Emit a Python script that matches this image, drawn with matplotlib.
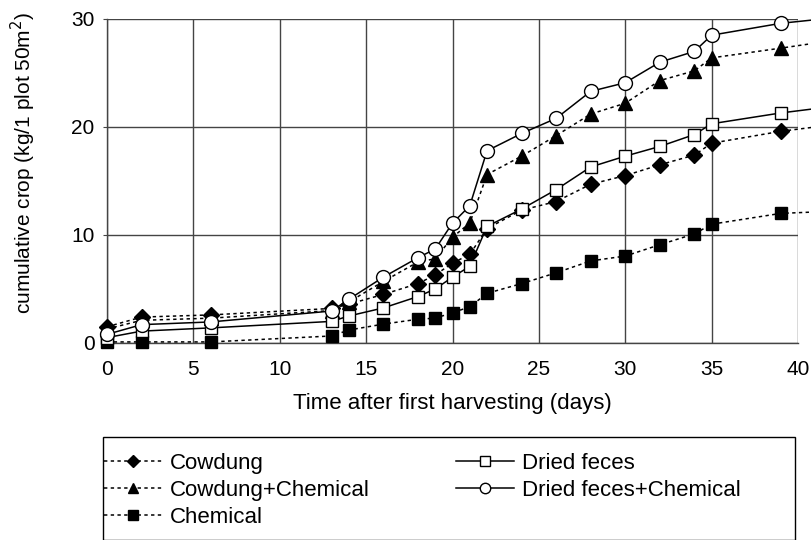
import matplotlib
matplotlib.use("Agg")
import matplotlib.pyplot as plt
from matplotlib.patches import Rectangle

plt.rcParams['font.family'] = ['Liberation Sans', 'DejaVu Sans']

days = [0, 2, 6, 13, 14, 16, 18, 19, 20, 21, 22, 24, 26, 28, 30, 32, 34, 35, 39, 42]

cowdung = [1.5, 2.4, 2.6, 3.2, 3.6, 4.5, 5.5, 6.3, 7.4, 8.2, 10.6, 12.3, 13.1, 14.7, 15.5, 16.5, 17.4, 18.5, 19.6, 20.2]
cowdung_chem = [1.3, 2.1, 2.3, 3.0, 3.8, 5.7, 7.5, 7.8, 9.8, 11.1, 15.6, 17.3, 19.2, 21.2, 22.2, 24.3, 25.2, 26.4, 27.3, 28.0]
chemical = [0.1, 0.1, 0.1, 0.65, 1.2, 1.75, 2.2, 2.3, 2.8, 3.35, 4.6, 5.5, 6.5, 7.6, 8.05, 9.1, 10.1, 11.0, 12.0, 12.2]
dried = [0.5, 1.1, 1.4, 2.0, 2.5, 3.25, 4.3, 5.0, 6.1, 7.1, 10.8, 12.4, 14.2, 16.3, 17.3, 18.2, 19.3, 20.3, 21.3, 21.9]
dried_chem = [0.8, 1.7, 1.95, 2.96, 4.05, 6.1, 7.9, 8.7, 11.1, 12.7, 17.8, 19.4, 20.8, 23.3, 24.1, 26.0, 27.0, 28.5, 29.6, 30.1]

labels = ["Cowdung", "Cowdung+Chemical", "Chemical", "Dried feces", "Dried feces+Chemical"]
xticks = [0, 5, 10, 15, 20, 25, 30, 35, 40]
yticks = [0, 10, 20, 30]

W, H = 811, 540
fig = plt.figure(figsize=(W/100, H/100), dpi=100)
ax = fig.add_axes([107/W, 1 - 343/H, (798 - 107)/W, (343 - 19)/H])

dash = (0, (2.2, 2.2))
common = dict(color='black', linewidth=1.1, markeredgecolor='black', markeredgewidth=1.0, clip_on=False)
ax.plot(days, cowdung, linestyle=dash, marker='D', markersize=8, markerfacecolor='black', label=labels[0], zorder=3, **common)
ax.plot(days, cowdung_chem, linestyle=dash, marker='^', markersize=10, markerfacecolor='black', label=labels[1], zorder=3, **common)
ax.plot(days, chemical, linestyle=dash, marker='s', markersize=9, markerfacecolor='black', label=labels[2], zorder=3, **common)
ax.plot(days, dried, linestyle='-', marker='s', markersize=9, markerfacecolor='white', label=labels[3], zorder=4, **common)
ax.plot(days, dried_chem, linestyle='-', marker='o', markersize=10, markerfacecolor='white', label=labels[4], zorder=4, **common)

ax.set_xlim(0, 40)
ax.set_ylim(0, 30)
ax.set_xticks(xticks)
ax.set_yticks(yticks)
ax.grid(True, color='#444444', linewidth=1.0)
ax.set_axisbelow(True)
for s in ['top', 'right']:
    ax.spines[s].set_visible(False)
for s in ['left', 'bottom']:
    ax.spines[s].set_color('#444444')
    ax.spines[s].set_linewidth(1.0)
ax.tick_params(axis='y', length=3, color='#444444', labelsize=15, pad=6)
ax.tick_params(axis='x', length=0, labelsize=15, pad=12)

ax.set_xlabel("Time after first harvesting (days)", fontsize=16, labelpad=10)
ax.set_ylabel("cumulative crop (kg/1 plot 50m$^2$)", fontsize=15)
ax.yaxis.set_label_coords(-0.1, 0.555)

# legend frame
fig.patches.append(Rectangle((103/W, 0.5/H), (795 - 103)/W, (539.5 - 437)/H,
                             transform=fig.transFigure, fill=False,
                             edgecolor='black', linewidth=1.0))
fig.legend(loc='upper left', bbox_to_anchor=(104/W, 1 - 453/H), ncol=2,
           frameon=False, fontsize=16, markerscale=0.75, handlelength=2.6,
           columnspacing=3.9, handletextpad=0.35, labelspacing=0.27,
           borderpad=0, borderaxespad=0)

fig.savefig("out.png", dpi=100)
